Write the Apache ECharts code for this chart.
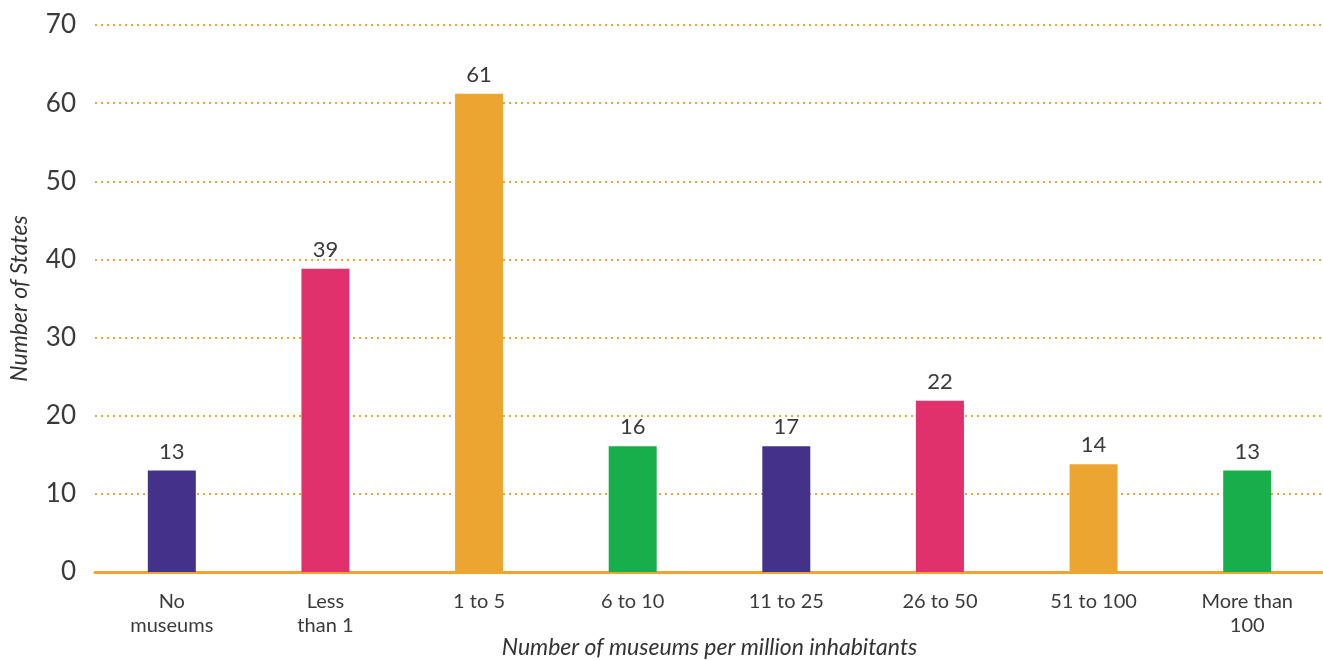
<!DOCTYPE html>
<html>
<head>
<meta charset="utf-8">
<script src="https://cdn.jsdelivr.net/npm/echarts@6/dist/echarts.min.js"></script>
<style>
    html, body { margin: 0; padding: 0; background: #fff; }
    #chart { width: 1323px; height: 660px; }
</style>
</head>
<body>
<div id="chart"></div>
<script type="text/javascript">
    // categories along the x axis
    var categories = ['No\nmuseums', 'Less\nthan 1', '1 to 5', '6 to 10', '11 to 25', '26 to 50', '51 to 100', 'More than\n100'];
    // bar heights
    var values = [13, 38.8, 61.2, 16.1, 16.1, 21.9, 13.8, 13];
    // printed labels above the bars
    var barLabels = ['13', '39', '61', '16', '17', '22', '14', '13'];
    var barColors = ['#43318A', '#E0316D', '#EDA532', '#17AF4B', '#43318A', '#E0316D', '#EDA532', '#17AF4B'];
    var yTicks = [0, 10, 20, 30, 40, 50, 60, 70];

    var font = 'Lato, "Noto Sans", sans-serif';
    var myChart = echarts.init(document.getElementById('chart'));

    var seriesData = [];
    for (var i = 0; i < values.length; i++) {
        seriesData.push({
            value: values[i],
            itemStyle: { color: barColors[i] },
            label: { formatter: barLabels[i] }
        });
    }

    var option = {
        animation: false,
        grid: { left: 95, width: 1229, top: 25, bottom: 88, containLabel: false, outerBoundsMode: 'none' },
        xAxis: {
            type: 'category',
            data: categories,
            name: 'Number of museums per million inhabitants',
            nameLocation: 'middle',
            nameGap: 64,
            nameMoveOverlap: false,
            nameTextStyle: { fontFamily: font, fontSize: 23, fontStyle: 'italic', color: '#333' },
            axisLine: { lineStyle: { color: '#EDA532', width: 3 } },
            axisTick: { show: false },
            axisLabel: { fontFamily: font, fontSize: 20, color: '#3a3a3a', margin: 18, lineHeight: 24 }
        },
        yAxis: {
            type: 'value',
            min: yTicks[0],
            max: yTicks[yTicks.length - 1],
            interval: 10,
            name: 'Number of States',
            nameLocation: 'middle',
            nameRotate: 90,
            nameGap: 64,
            nameMoveOverlap: false,
            nameTextStyle: { fontFamily: font, fontSize: 23, fontStyle: 'italic', color: '#333' },
            axisLine: { show: false },
            axisTick: { show: false },
            axisLabel: { fontFamily: font, fontSize: 26, color: '#3a3a3a', margin: 19 },
            splitLine: { lineStyle: { color: '#EDA532', type: [2, 4], width: 2 } }
        },
        series: [{
            type: 'bar',
            barWidth: 48,
            data: seriesData,
            label: {
                show: true,
                position: 'top',
                distance: 8,
                fontFamily: font,
                fontSize: 22,
                color: '#3a3a3a'
            }
        }]
    };
    myChart.setOption(option);
</script>
</body>
</html>
